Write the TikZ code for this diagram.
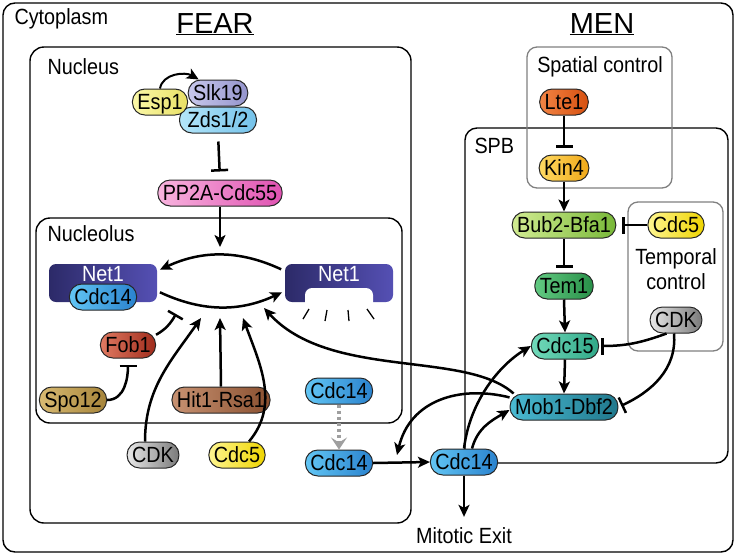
\documentclass[tikz,border=0pt]{standalone}
\usepackage{fontspec}
\setmainfont{Liberation Sans}[FakeStretch=0.9]
\newfontfamily\titlefont{Liberation Sans}
\usetikzlibrary{arrows.meta}

\definecolor{espL}{HTML}{FBF8A8}\definecolor{espR}{HTML}{E8E066}
\definecolor{slkL}{HTML}{C8C8EC}\definecolor{slkR}{HTML}{9494CC}
\definecolor{zdsL}{HTML}{B4E6FA}\definecolor{zdsR}{HTML}{74C2EA}
\definecolor{ppL}{HTML}{F8B4DE}\definecolor{ppR}{HTML}{E052B2}
\definecolor{netL}{HTML}{2C2A68}\definecolor{netR}{HTML}{5550B4}
\definecolor{cftL}{HTML}{62C6F4}\definecolor{cftR}{HTML}{2A82CE}
\definecolor{fobL}{HTML}{E07A62}\definecolor{fobR}{HTML}{A02C1C}
\definecolor{spoL}{HTML}{D8BA72}\definecolor{spoR}{HTML}{A6843A}
\definecolor{hitL}{HTML}{C89272}\definecolor{hitR}{HTML}{8A5030}
\definecolor{cdkL}{HTML}{E8E8E8}\definecolor{cdkR}{HTML}{7A7A7A}
\definecolor{cfvL}{HTML}{FFF690}\definecolor{cfvR}{HTML}{EED400}
\definecolor{lteL}{HTML}{F28444}\definecolor{lteR}{HTML}{D65010}
\definecolor{kinL}{HTML}{FFDA62}\definecolor{kinR}{HTML}{F0A818}
\definecolor{bubL}{HTML}{D2EC92}\definecolor{bubR}{HTML}{78B838}
\definecolor{temL}{HTML}{62CA82}\definecolor{temR}{HTML}{289048}
\definecolor{cffL}{HTML}{72DABA}\definecolor{cffR}{HTML}{30A888}
\definecolor{mobL}{HTML}{4ABAD2}\definecolor{mobR}{HTML}{20788C}

\tikzset{
  every node/.style={font=\fontsize{22}{25}\selectfont},
  prot/.style={draw=black!85, line width=1pt, rounded corners=12.5pt,
    minimum height=26pt, inner xsep=5pt, inner ysep=0pt,
    text height=16pt, text depth=2pt},
  esp/.style={prot, left color=espL, right color=espR},
  slk/.style={prot, left color=slkL, right color=slkR},
  zds/.style={prot, left color=zdsL, right color=zdsR},
  pptwoa/.style={prot, left color=ppL, right color=ppR},
  cdcft/.style={prot, left color=cftL, right color=cftR},
  fob/.style={prot, left color=fobL, right color=fobR},
  spo/.style={prot, left color=spoL, right color=spoR},
  hit/.style={prot, left color=hitL, right color=hitR},
  cdk/.style={prot, left color=cdkL, right color=cdkR},
  cfive/.style={prot, left color=cfvL, right color=cfvR},
  lte/.style={prot, left color=lteL, right color=lteR},
  kin/.style={prot, left color=kinL, right color=kinR},
  bub/.style={prot, left color=bubL, right color=bubR},
  tem/.style={prot, left color=temL, right color=temR},
  cdcff/.style={prot, left color=cffL, right color=cffR},
  mob/.style={prot, left color=mobL, right color=mobR},
  netone/.style={rounded corners=7pt, minimum width=108pt, minimum height=38pt,
    inner sep=0pt, left color=netL, right color=netR},
  nettext/.style={anchor=base, text=white},
  act/.style={line width=2.5pt, -{Stealth[length=12pt,width=11pt,inset=3pt]}},
  inh/.style={line width=2.5pt, -{Bar[width=17pt]}},
  box/.style={line width=1.4pt, rounded corners=14pt},
  ctrlbox/.style={draw=black!50, line width=1.3pt, rounded corners=10pt},
  boxlabel/.style={anchor=base west},
  title/.style={anchor=base, font=\titlefont\fontsize{29}{32}\selectfont},
}

\begin{document}
\begin{tikzpicture}[x=1pt,y=-1pt]
\useasboundingbox (0,0) rectangle (736,555);

% compartments
\draw[box, rounded corners=12pt] (3,3) rectangle (733,552);
\draw[box] (30,47) rectangle (411,523);
\draw[box] (36,218) rectangle (402,423);
\draw[box, rounded corners=12pt] (465,128) rectangle (728,463);
\draw[ctrlbox] (527,47) rectangle (672,188);
\draw[ctrlbox] (628,202) rectangle (723,351);

\node[boxlabel] (cytolbl) at (11,24) {Cytoplasm};
\node[boxlabel] (nuclbl) at (44,74) {Nucleus};
\node[boxlabel] (nucllbl) at (44,241) {Nucleolus};
\node[boxlabel] (spblbl) at (471,153) {SPB};
\node[anchor=base] (spatlbl) at (600,72) {Spatial control};
\node[align=center, anchor=base] (templbl) at (676,289) {Temporal\\control};
\node[title] (fear) at (215,33) {\underline{FEAR}};
\node[title] (men) at (602,33) {\underline{MEN}};

% FEAR
\node[zds, minimum width=77pt] (zds) at (218,120) {Zds1/2};
\node[slk] (slk19) at (218,93) {Slk19};
\node[esp] (esp1) at (160,102) {Esp1};
\node[pptwoa] (pp2a) at (220,193) {PP2A-Cdc55};

\node[netone] (net1a) at (103,283) {};
\node[nettext] (net1atxt) at (103,281) {Net1};
\node[cdcft] (c14a) at (103,297) {Cdc14};
\node[netone] (net1b) at (339,283) {};
\fill[white, rounded corners=7pt] (305,288) rectangle (373,318);
\node[nettext] (net1btxt) at (339,281) {Net1};
\draw[line width=1.3pt] (303,319) -- (309,309);
\draw[line width=1.3pt] (325,321) -- (327,310);
\draw[line width=1.3pt] (349,321) -- (348,310);
\draw[line width=1.3pt] (374,319) -- (367,309);

\node[fob] (fob1) at (128,345) {Fob1};
\node[spo] (spo12) at (73,400) {Spo12};
\node[hit] (hit1) at (221,400) {Hit1-Rsa1};
\node[cdk] (cdkf) at (153,455) {CDK};
\node[cfive] (cdc5f) at (237,455) {Cdc5};
\node[cdcft] (c14n1) at (339,391) {Cdc14};
\node[cdcft] (c14n2) at (339,463) {Cdc14};
\node[cdcft] (c14c) at (464,462) {Cdc14};
\node[anchor=base, inner sep=0pt] (mexit) at (464,543) {Mitotic Exit};

\coordinate (ppT) at (220,247);
\coordinate (fobT) at (176,314);
\coordinate (cdkT) at (201,318);
\coordinate (hitT) at (220,318);
\coordinate (cdc5T) at (243,318);
\coordinate (menT) at (264,308);
\coordinate (expT) at (397,455);

% MEN
\node[lte] (lte1) at (564,102) {Lte1};
\node[kin] (kin4) at (564,168) {Kin4};
\node[bub] (bub2) at (564,225) {Bub2-Bfa1};
\node[cfive] (cdc5m) at (676,225) {Cdc5};
\node[tem] (tem1) at (564,286) {Tem1};
\node[cdk] (cdkm) at (676,320) {CDK};
\node[cdcff] (cdc15) at (565,346) {Cdc15};
\node[mob] (mob1) at (564,407) {Mob1-Dbf2};

% FEAR connectors
\draw[act, line width=2pt] (esp1.north) to[out=80,in=150] (slk19.145);
\draw[inh, shorten <=8pt, shorten >=8pt] (zds.south) -- (pp2a.north);
\draw[act] (pp2a.south) -- (ppT);
\draw[act, shorten <=4pt, shorten >=3pt] ([yshift=12pt]net1b.west) to[bend right=25] ([yshift=12pt]net1a.east);
\draw[act, shorten <=3pt, shorten >=3pt] ([yshift=-8pt]net1a.east) to[bend right=25] ([yshift=-8pt]net1b.west);
\draw[inh] (fob1.20) to[out=30,in=240] (fobT);
\draw[inh, shorten >=6pt] (spo12.east) to[out=0,in=-90] (fob1.south);
\draw[act] ([xshift=-8pt]cdkf.north) to[out=90,in=235] (cdkT);
\draw[act] (hit1.north) -- (hitT);
\draw[act] ([xshift=12pt]cdc5f.north) to[out=50,in=-70] (cdc5T);
\draw[gray!75, line width=4pt, dash pattern=on 3.5pt off 2.5pt,
  -{Stealth[length=12pt,width=16pt,inset=5pt]}] (c14n1.south) -- (c14n2.north);
\draw[act] (c14n2.east) -- (c14c.west);
\draw[act, shorten >=10pt] (c14c.south) -- (mexit.north);

% MEN connectors
\draw[inh, shorten >=7pt] (lte1.south) -- (kin4.north);
\draw[act] (kin4.south) -- (bub2.north);
\draw[inh, shorten >=6pt] (cdc5m.west) -- (bub2.east);
\draw[inh, shorten >=5pt] (bub2.south) -- (tem1.north);
\draw[act] (tem1.south) -- (cdc15.north);
\draw[act] (cdc15.south) -- (mob1.north);
\draw[inh, shorten >=2pt] (cdkm.235) to[out=200,in=0] (cdc15.east);
\draw[inh, shorten >=3pt] ([xshift=-2pt]cdkm.south) to[out=-85,in=25] (mob1.east);

% crosstalk
\draw[act] (mob1.165) .. controls (465,350) and (330,380) .. (menT);
\draw[act] (mob1.170) .. controls (460,385) and (410,400) .. (expT);
\draw[act] (c14c.north) .. controls (470,400) and (500,365) .. (cdc15.west);
\draw[act] ([xshift=8pt]c14c.north) to[out=75,in=210] ([yshift=-3pt]mob1.west);
\end{tikzpicture}
\end{document}
